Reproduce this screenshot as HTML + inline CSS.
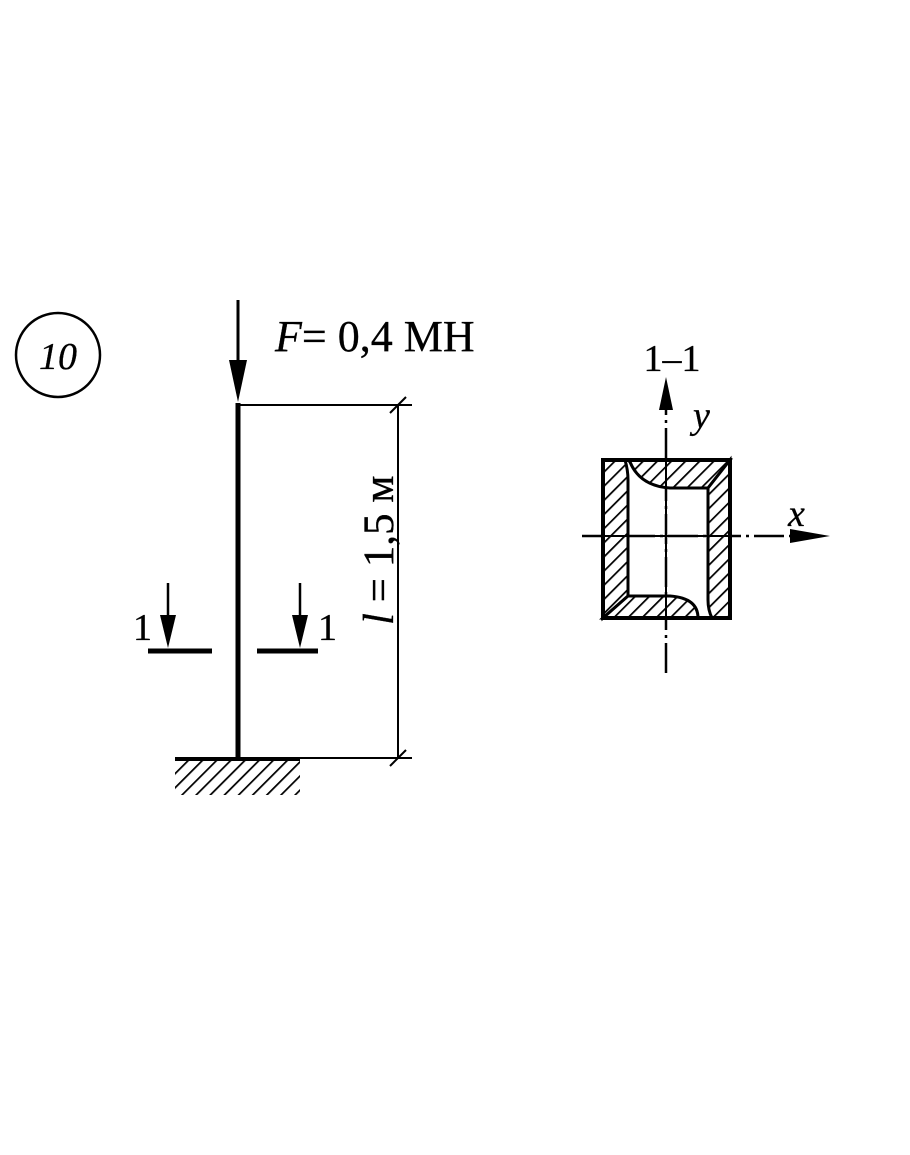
<!DOCTYPE html>
<html><head><meta charset="utf-8"><style>
html,body{margin:0;padding:0;background:#fff;}
svg{display:block;}
text{font-family:"Liberation Serif",serif;fill:#000;stroke:#000;stroke-width:0.3;}
</style></head><body>
<svg width="910" height="1155" viewBox="0 0 910 1155" xmlns="http://www.w3.org/2000/svg">
<defs>
<pattern id="h" patternUnits="userSpaceOnUse" width="10" height="10" patternTransform="rotate(45)">
<rect width="10" height="10" fill="#fff"/><line x1="0" y1="0" x2="0" y2="10" stroke="#000" stroke-width="3.5"/>
</pattern>
</defs>
<ellipse cx="58" cy="355" rx="42" ry="42" fill="none" stroke="#000" stroke-width="2.5"/>
<text x="58" y="369" font-size="38" font-style="italic" text-anchor="middle">10</text>
<line x1="238" y1="300" x2="238" y2="375" stroke="#000" stroke-width="3"/>
<polygon points="229,360 247,360 238,402" fill="#000"/>
<text x="275" y="351" font-size="44"><tspan font-style="italic">F</tspan>= 0,4 МН</text>
<line x1="238" y1="403" x2="238" y2="760" stroke="#000" stroke-width="5"/>
<line x1="238" y1="405" x2="412" y2="405" stroke="#000" stroke-width="2"/>
<line x1="175" y1="758" x2="412" y2="758" stroke="#000" stroke-width="2"/>
<line x1="175" y1="759" x2="300" y2="759" stroke="#000" stroke-width="4"/>
<rect x="175" y="761" width="125" height="34" fill="url(#h)"/>
<line x1="398" y1="405" x2="398" y2="758" stroke="#000" stroke-width="2"/>
<line x1="390" y1="413" x2="406" y2="397" stroke="#000" stroke-width="2"/>
<line x1="390" y1="766" x2="406" y2="750" stroke="#000" stroke-width="2"/>
<text x="0" y="0" font-size="43" transform="translate(393,625) rotate(-90)"><tspan font-style="italic">l</tspan> = 1,5 м</text>
<line x1="148" y1="651" x2="212" y2="651" stroke="#000" stroke-width="5"/>
<line x1="168" y1="583" x2="168" y2="620" stroke="#000" stroke-width="2.5"/>
<polygon points="160,615 176,615 168,648" fill="#000"/>
<text x="133" y="640" font-size="38">1</text>
<line x1="257" y1="651" x2="318" y2="651" stroke="#000" stroke-width="5"/>
<line x1="300" y1="583" x2="300" y2="620" stroke="#000" stroke-width="2.5"/>
<polygon points="292,615 308,615 300,648" fill="#000"/>
<text x="318" y="640" font-size="38">1</text>
<text x="672" y="371" font-size="38" text-anchor="middle">1–1</text>
<text x="693" y="428" font-size="38" font-style="italic">y</text>
<text x="788" y="526" font-size="38" font-style="italic">x</text>
<line x1="666" y1="673" x2="666" y2="395" stroke="#000" stroke-width="2.5" stroke-dasharray="30,5,3,5"/>
<polygon points="659,410 673,410 666,377" fill="#000"/>
<line x1="582" y1="536" x2="800" y2="536" stroke="#000" stroke-width="2.5" stroke-dasharray="30,5,3,5"/>
<polygon points="790,529 790,543 830,536" fill="#000"/>
<g stroke="#000" stroke-width="3" fill="url(#h)">
<path d="M603,460 L625,460 Q628,470 628,480 L628,596 L603,618 Z"/>
<path d="M603,618 L628,596 L670,596 Q698,598 698,618 Z"/>
<path d="M628,460 L730,460 L708,488 L670,488 Q640,486 630,462 Z"/>
<path d="M730,460 L730,618 L712,618 Q708,610 708,600 L708,488 Z"/>
</g>
<rect x="603" y="460" width="127" height="158" fill="none" stroke="#000" stroke-width="4"/>
<line x1="666" y1="458" x2="666" y2="620" stroke="#000" stroke-width="2"/>
<line x1="600" y1="536" x2="733" y2="536" stroke="#000" stroke-width="2"/>
</svg>
</body></html>
